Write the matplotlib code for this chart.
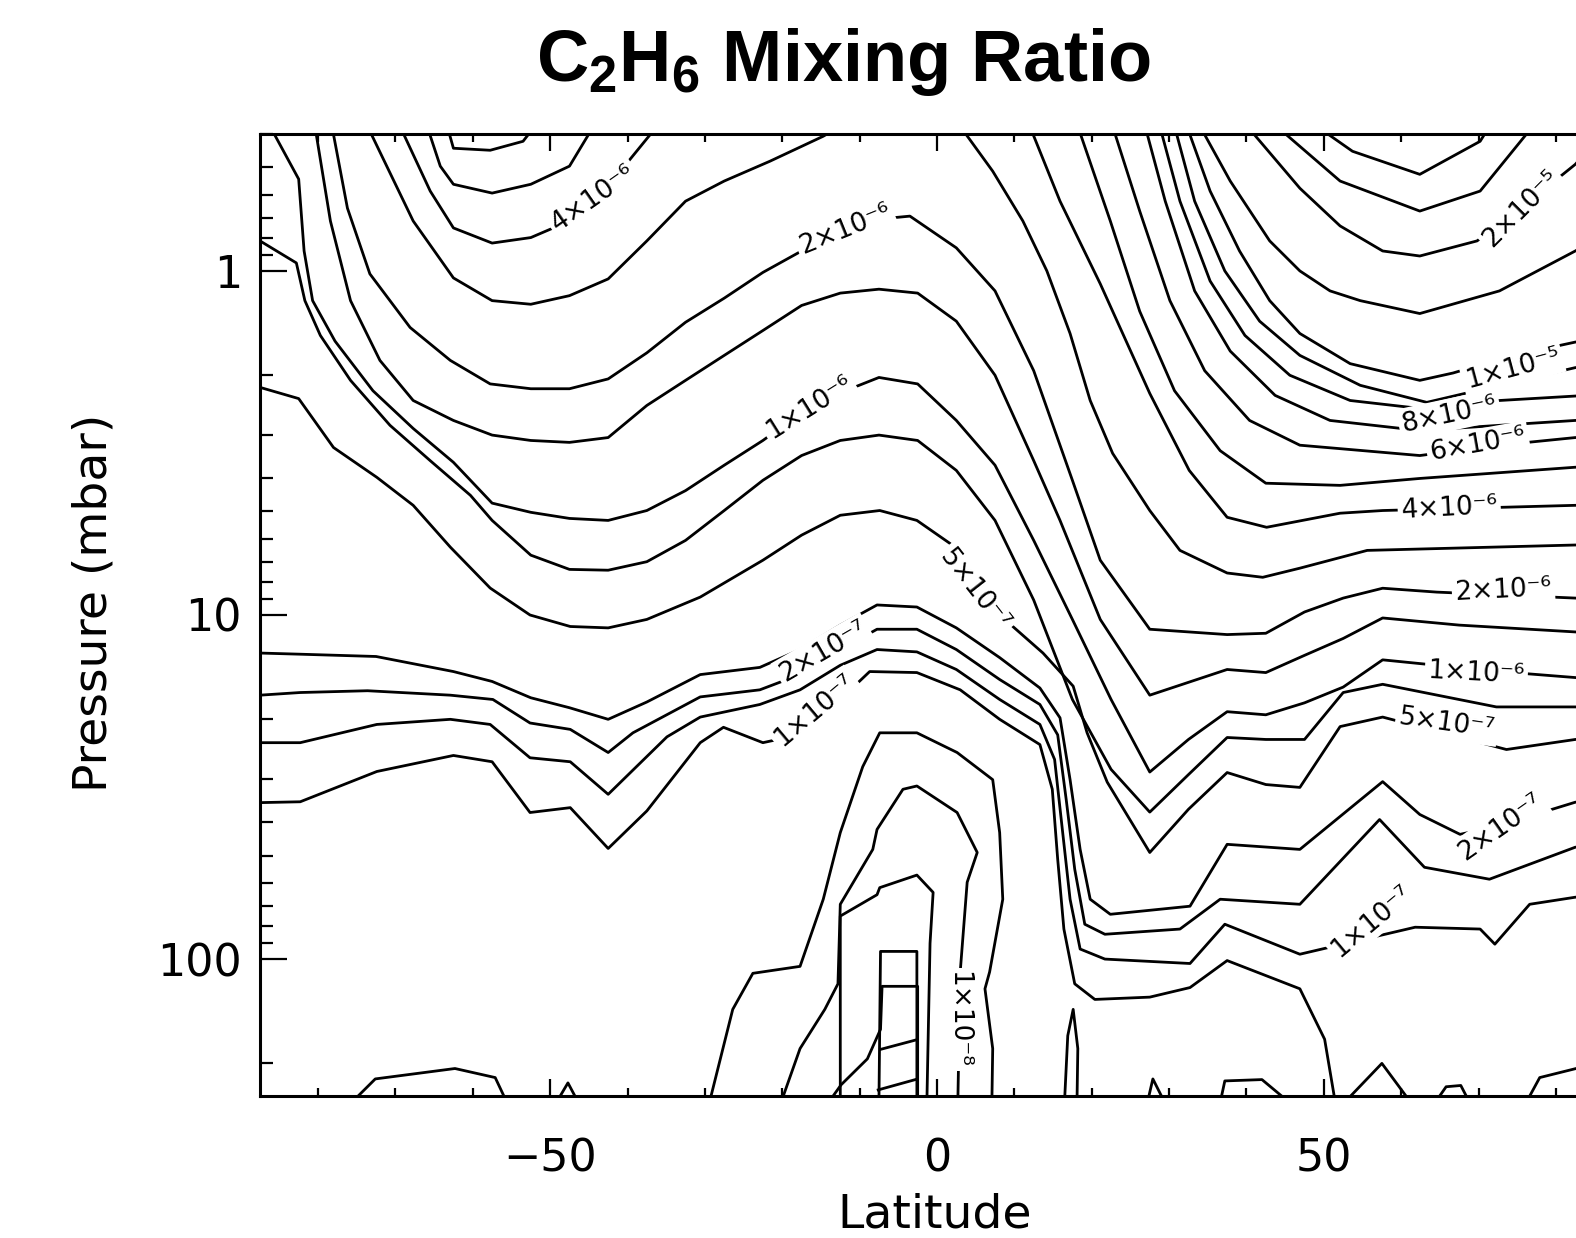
import matplotlib
matplotlib.use("Agg")
import matplotlib.pyplot as plt

plt.rcParams['mathtext.fontset'] = 'custom'
plt.rcParams['mathtext.rm'] = 'Liberation Sans'
plt.rcParams['mathtext.bf'] = 'Liberation Sans:bold'

# ---------------- contour lines (latitude [deg], pressure [mbar]) ----------------
c6e6_lat = [-63.3, -62.5, -57.75, -53.5, -52.0]
c6e6_p = [0.38, 0.44, 0.446, 0.42, 0.38]
c5e6_lat = [-65.9, -64.2, -62.5, -57.5, -52.5, -47.5, -44.4]
c5e6_p = [0.38, 0.496, 0.56, 0.594, 0.56, 0.496, 0.38]
c4e6L_lat = [-69.4, -65.5, -62.5, -57.5, -52.5, -47.5, -42.5, -36.2]
c4e6L_p = [0.38, 0.586, 0.75, 0.83, 0.80, 0.716, 0.567, 0.38]
c3e6L_lat = [-73.6, -67.7, -62.5, -57.5, -52.5, -47.5, -42.5, -37.5, -32.5, -27.5, -21.6, -14.7, -12.5]
c3e6L_p = [0.38, 0.716, 1.048, 1.22, 1.25, 1.18, 1.055, 0.818, 0.627, 0.548, 0.48, 0.406, 0.38]
c2e6_lat = [-78.2, -76.2, -73.3, -68.1, -62.9, -57.75, -52.5, -47.5, -42.5, -37.5, -32.5, -27.5, -22.5,
            -17.5, -12.5, -7.5, -3.5, 2.5, 7.5, 12.5, 17.5, 21.1, 27.5, 37.5, 42.5, 47.5, 52.5, 57.6,
            64.6, 82.5, 88.2]
c2e6_p = [0.38, 0.657, 1.02, 1.46, 1.82, 2.13, 2.20, 2.20, 2.06, 1.73, 1.41, 1.20, 1.01,
          0.875, 0.776, 0.707, 0.693, 0.857, 1.143, 1.95, 4.06, 6.93, 11.0, 11.4, 11.3, 9.8, 8.93, 8.36,
          8.58, 8.93, 9.05]
c15e7_lat = [-80.4, -78.4, -75.8, -72.0, -67.7, -62.5, -57.5, -52.5, -47.5, -42.5, -37.5, -32.5, -27.5,
             -22.5, -17.5, -12.5, -7.5, -2.5, 2.5, 7.5, 12.5, 15.9, 21.1, 27.5, 37.5, 42.5, 47.5, 52.5,
             57.6, 67.5, 82.5, 88.2]
c15e7_p = [0.38, 0.716, 1.22, 1.82, 2.38, 2.72, 3.0, 3.11, 3.15, 3.05, 2.46, 2.08, 1.76,
           1.49, 1.26, 1.16, 1.13, 1.16, 1.40, 2.01, 3.56, 5.31, 10.3, 17.1, 14.4, 14.7, 13.1, 11.7,
           10.2, 10.7, 11.2, 11.4]
c1e6_lat = [-86.2, -82.5, -81.8, -80.7, -77.8, -72.9, -67.7, -62.5, -57.5, -52.5, -47.5, -42.5, -37.5,
            -32.5, -27.5, -22.5, -17.5, -12.5, -7.5, -2.5, 2.5, 7.5, 12.5, 17.5, 22.5, 27.5, 32.5,
            37.5, 42.5, 47.5, 52.5, 57.6, 72.7, 82.5, 88.2]
c1e6_p = [0.38, 0.541, 0.875, 1.22, 1.60, 2.23, 2.87, 3.60, 4.73, 5.03, 5.24, 5.31, 4.97,
          4.35, 3.67, 3.11, 2.58, 2.26, 2.04, 2.13, 2.72, 3.67, 6.07, 10.3, 17.6, 28.6, 23.0,
          19.1, 19.5, 18.0, 16.2, 13.5, 14.6, 15.2, 15.4]
c7e7_lat = [-87.5, -82.8, -81.7, -79.7, -75.8, -70.7, -65.5, -60.3, -57.5, -52.5, -47.5, -42.5, -37.5,
            -32.5, -27.5, -22.5, -17.5, -12.5, -7.5, -2.5, 2.5, 7.5, 12.5, 17.5, 22.5, 27.5, 32.5,
            37.5, 42.5, 47.5, 52.5, 57.6, 72.3, 82.5, 88.2]
c7e7_p = [0.818, 0.948, 1.22, 1.54, 2.08, 2.81, 3.56, 4.49, 5.31, 6.7, 7.37, 7.41, 7.0,
          6.07, 4.97, 4.06, 3.44, 3.11, 3.0, 3.11, 3.80, 5.31, 9.05, 17.6, 28.1, 37.4, 29.1,
          22.7, 23.0, 23.0, 16.8, 15.9, 18.5, 18.5, 18.6]
c5e7_lat = [-87.5, -82.5, -78.0, -72.4, -67.7, -62.9, -57.75, -52.6, -47.4, -42.5, -37.5, -30.6, -22.5,
            -17.5, -12.5, -7.4, -2.6, 1.7, 9.8, 13.7, 17.6, 19.4, 22.0, 27.5, 32.5, 37.5, 42.5, 46.9,
            52.1, 57.6, 73.6, 82.5, 88.2]
c5e7_p = [2.18, 2.35, 3.26, 3.98, 4.8, 6.35, 8.35, 10.0, 10.8, 10.9, 10.3, 8.87, 6.93,
          5.86, 5.13, 4.97, 5.31, 6.2, 10.8, 12.9, 16.1, 22.0, 30.6, 49.0, 36.7, 28.7, 31.1, 31.7,
          21.1, 19.8, 24.6, 23.0, 22.7]
c3e7_lat = [-87.5, -82.3, -72.5, -62.5, -57.5, -52.5, -47.5, -42.5, -37.5, -30.6, -22.9, -17.7, -12.5,
            -7.75, -2.6, 2.5, 8.1, 13.3, 15.9, 17.2, 18.5, 19.8, 22.4, 32.7, 37.5, 46.9, 57.6, 62.4,
            67.6, 72.4, 82.5, 88.2]
c3e7_p = [12.9, 13.0, 13.2, 14.6, 15.6, 17.4, 18.6, 20.1, 17.9, 14.9, 14.2, 12.6, 10.7,
          9.35, 9.48, 10.9, 13.3, 16.3, 19.9, 30.1, 48.0, 67.0, 74.1, 70.2, 46.4, 48.0, 30.5, 38.0,
          43.4, 41.1, 35.0, 34.4]
c2e7_lat = [-87.5, -82.3, -73.6, -62.9, -57.4, -52.6, -47.4, -42.5, -39.3, -30.6, -22.9, -17.7, -12.5,
            -7.75, -2.6, 2.5, 8.1, 13.3, 15.6, 16.7, 17.8, 19.1, 21.7, 31.4, 36.6, 46.9, 57.2, 63.0,
            71.4, 82.5, 88.2]
c2e7_p = [17.1, 16.8, 16.6, 17.1, 17.6, 20.6, 21.5, 25.1, 22.0, 17.3, 16.5, 14.9, 12.6,
          11.0, 11.0, 12.6, 15.4, 18.2, 22.3, 34.4, 54.8, 79.2, 84.7, 81.8, 67.0, 69.3, 39.3, 54.1,
          58.6, 47.3, 46.8]
c15e7b_lat = [-87.5, -82.3, -72.4, -62.9, -57.75, -52.6, -47.4, -42.5, -34.9, -30.6, -22.9, -17.7, -12.5,
              -7.75, -2.6, 2.5, 8.1, 13.3, 15.2, 16.2, 17.2, 18.5, 21.7, 32.7, 37.2, 46.9, 61.8, 70.2,
              72.1, 76.6, 82.5, 88.2]
c15e7b_p = [23.5, 23.5, 20.8, 20.1, 20.8, 26.0, 26.7, 33.2, 22.6, 19.8, 18.2, 16.5, 14.0,
            12.6, 12.8, 14.4, 17.6, 20.8, 26.3, 42.0, 67.0, 93.5, 100, 103, 79.2, 96.8, 80.8, 81.8,
            90.5, 69.3, 66.1, 64.8]
c1e7_lat = [-87.5, -82.3, -72.4, -62.5, -57.5, -52.6, -47.4, -42.5, -37.5, -30.6, -27.6, -22.5, -19.0,
            -12.5, -8.7, -2.6, 3.0, 8.1, 13.3, 14.9, 15.6, 16.4, 17.8, 20.4, 27.5, 32.7, 37.5, 46.9,
            50.1, 51.4]
c1e7_p = [35.1, 34.9, 28.5, 25.6, 26.7, 37.5, 36.3, 47.7, 37.1, 23.5, 21.2, 23.5, 22.6,
          17.6, 14.6, 14.7, 16.5, 20.1, 23.8, 32.1, 51.3, 81.8, 118, 131, 129, 121, 101, 122,
          171, 255]

# equatorial lower dome
b1_lat = [-29.3, -26.4, -23.8, -17.7, -14.7, -12.5, -9.6, -7.4, -2.6, 2.6, 7.2, 8.1, 8.5, 6.8, 6.2, 7.2, 7.1]
b1_p = [255, 140, 110, 105, 67.0, 42.9, 27.6, 22.0, 22.0, 25.1, 30.1, 42.9, 67.0, 109, 122, 182, 255]
b2_lat = [-20.0, -17.7, -14.5, -12.8, -12.5, -8.3, -7.75, -4.4, -2.6, 2.6, 5.2, 3.9, 3.0, 2.7]
b2_p = [255, 182, 140, 118, 69.3, 48.0, 42.0, 32.1, 31.4, 37.5, 49.0, 59.8, 109, 255]
b3_lat = [-12.5, -12.5, -7.75, -7.4, -2.6, -0.5, -0.9, -1.3]
b3_p = [255, 75.0, 65.0, 62.0, 57.0, 64.0, 90.0, 255]
b4_lat = [-13.7, -12.4, -9.0, -7.3, -7.1, -2.5, -2.5]
b4_p = [255, 232, 195, 160, 120, 120, 255]
b5_lat = [-7.5, -7.3, -2.6, -2.6]
b5_p = [255, 95.0, 95.0, 255]
b6_lat = [-7.3, -2.8]
b6_p = [183, 172]
b7_lat = [-7.6, -2.8]
b7_p = [240, 224]

# small contours along the bottom edge
s1_lat = [-75.2, -72.6, -62.3, -57.1, -55.8]
s1_p = [255, 223, 208, 221, 255]
s2_lat = [-48.7, -47.7, -46.8]
s2_p = [250, 229, 250]
s3_lat = [16.5, 16.9, 17.6, 18.2, 18.1]
s3_p = [255, 167, 140, 182, 255]
s4_lat = [27.3, 27.9, 29.2]
s4_p = [255, 223, 255]
s5_lat = [36.7, 37.2, 42.0, 45.0]
s5_p = [255, 226, 224, 255]
s6_lat = [53.1, 57.5, 60.9]
s6_p = [255, 201, 255]
s7_lat = [64.7, 65.8, 67.7, 68.6]
s7_p = [255, 235, 233, 255]
s8_lat = [76.4, 77.9, 82.6, 87.5]
s8_p = [255, 221, 208, 195]

# upper right family
r3e6_lat = [3.0, 7.2, 11.1, 14.2, 17.2, 19.8, 22.7, 27.5, 31.4, 37.5, 42.1, 46.9, 55.6, 82.5, 88.2]
r3e6_p = [0.38, 0.513, 0.716, 1.0, 1.52, 2.38, 3.39, 4.97, 6.49, 7.55, 7.77, 7.31, 6.49, 6.26, 6.26]
r4e6_lat = [12.0, 15.9, 21.1, 27.5, 32.6, 37.5, 42.6, 52.1, 57.6, 82.5, 88.2]
r4e6_p = [0.38, 0.627, 1.09, 2.27, 3.80, 5.20, 5.56, 5.06, 4.97, 4.80, 4.80]
r5e6_lat = [18.2, 22.4, 26.2, 30.7, 36.6, 42.5, 52.1, 62.4, 82.5, 88.2]
r5e6_p = [0.38, 0.716, 1.31, 2.23, 3.33, 4.14, 4.20, 4.01, 3.72, 3.70]
r6e6_lat = [22.7, 26.2, 30.1, 34.6, 40.4, 46.9, 62.4, 72.7, 82.5, 88.2]
r6e6_p = [0.38, 0.670, 1.22, 1.95, 2.72, 3.21, 3.44, 3.21, 3.05, 3.03]
r7e6_lat = [26.9, 29.5, 33.3, 37.9, 43.7, 50.8, 62.4, 72.7, 82.5, 88.2]
r7e6_p = [0.38, 0.627, 1.143, 1.71, 2.30, 2.72, 2.91, 2.81, 2.72, 2.69]
r8e6_lat = [28.8, 31.4, 35.3, 39.8, 45.6, 53.4, 62.4, 72.7, 82.5, 88.2]
r8e6_p = [0.38, 0.627, 1.07, 1.54, 2.01, 2.38, 2.51, 2.38, 2.31, 2.27]
r9e6_lat = [30.7, 33.3, 37.2, 41.7, 46.9, 54.7, 63.3, 72.7, 82.5, 88.2]
r9e6_p = [0.38, 0.627, 1.0, 1.40, 1.76, 2.15, 2.41, 2.15, 1.91, 1.85]
r1e5_lat = [32.3, 35.3, 39.1, 43.0, 46.9, 53.4, 62.4, 66.7, 74.0, 82.5, 88.2]
r1e5_p = [0.38, 0.586, 0.875, 1.22, 1.52, 1.86, 2.08, 1.98, 1.77, 1.61, 1.54]
r15e5_lat = [34.0, 37.9, 43.0, 46.9, 50.8, 54.7, 62.4, 72.7, 82.5, 88.2]
r15e5_p = [0.38, 0.548, 0.818, 1.0, 1.143, 1.22, 1.33, 1.143, 0.875, 0.74]
r2e5_lat = [40.1, 46.9, 52.1, 57.6, 62.4, 69.8, 76.6, 82.5, 86.9]
r2e5_p = [0.38, 0.575, 0.74, 0.875, 0.905, 0.818, 0.627, 0.49, 0.38]
r25e5_lat = [43.9, 52.1, 62.4, 70.2, 77.0]
r25e5_p = [0.38, 0.548, 0.670, 0.586, 0.38]
r3e5_lat = [49.1, 53.7, 62.4, 70.2, 71.4]
r3e5_p = [0.38, 0.449, 0.524, 0.42, 0.38]

lines = [
    (c6e6_lat, c6e6_p), (c5e6_lat, c5e6_p), (c4e6L_lat, c4e6L_p), (c3e6L_lat, c3e6L_p),
    (c2e6_lat, c2e6_p), (c15e7_lat, c15e7_p), (c1e6_lat, c1e6_p), (c7e7_lat, c7e7_p),
    (c5e7_lat, c5e7_p), (c3e7_lat, c3e7_p), (c2e7_lat, c2e7_p), (c15e7b_lat, c15e7b_p),
    (c1e7_lat, c1e7_p),
    (b1_lat, b1_p), (b2_lat, b2_p), (b3_lat, b3_p), (b4_lat, b4_p), (b5_lat, b5_p),
    (b6_lat, b6_p), (b7_lat, b7_p),
    (s1_lat, s1_p), (s2_lat, s2_p), (s3_lat, s3_p), (s4_lat, s4_p), (s5_lat, s5_p),
    (s6_lat, s6_p), (s7_lat, s7_p), (s8_lat, s8_p),
    (r3e6_lat, r3e6_p), (r4e6_lat, r4e6_p), (r5e6_lat, r5e6_p), (r6e6_lat, r6e6_p),
    (r7e6_lat, r7e6_p), (r8e6_lat, r8e6_p), (r9e6_lat, r9e6_p), (r1e5_lat, r1e5_p),
    (r15e5_lat, r15e5_p), (r2e5_lat, r2e5_p), (r25e5_lat, r25e5_p), (r3e5_lat, r3e5_p),
]

# contour labels: text, latitude, pressure, rotation
label_text = ['4×10⁻⁶', '2×10⁻⁶', '1×10⁻⁶', '5×10⁻⁷', '2×10⁻⁷', '1×10⁻⁷', '1×10⁻⁸',
              '2×10⁻⁵', '1×10⁻⁵', '8×10⁻⁶', '6×10⁻⁶', '4×10⁻⁶', '2×10⁻⁶', '1×10⁻⁶',
              '5×10⁻⁷', '2×10⁻⁷', '1×10⁻⁷']
label_lat = [-44.4, -11.9, -16.5, 4.8, -14.7, -15.8, 2.7,
             75.5, 74.4, 66.2, 69.9, 66.2, 73.2, 69.7,
             65.9, 72.9, 56.2]
label_p = [0.618, 0.755, 2.5, 8.5, 12.8, 18.9, 150,
           0.66, 1.93, 2.62, 3.21, 4.90, 8.47, 14.8,
           20.7, 41.5, 77.6]
label_rot = [35, 22, 32, -52, 30, 40, -90,
             45, 15, 12, 10, 3, 3, -3,
             -8, 35, 40]

# ---------------- figure ----------------
W, H = 1576, 1238
fig = plt.figure(figsize=(W / 100, H / 100), dpi=100)
ax = fig.add_axes([260 / W, 1 - 1096 / H, (1614 - 260) / W, (1096 - 134) / H])
ax.set_yscale('log')
ax.set_xlim(-87.5, 87.5)
ax.set_ylim(250, 0.4)

for lat, p in lines:
    ax.plot(lat, p, color='black', lw=2.0, solid_joinstyle='round')

for t, la, pp, r in zip(label_text, label_lat, label_p, label_rot):
    ax.text(la, pp, t, rotation=r, rotation_mode='anchor', ha='center', va='center',
            fontsize=19, family='DejaVu Sans', zorder=5,
            bbox=dict(boxstyle='square,pad=0.12', fc='white', ec='none'))

xticks = [-50, 0, 50]
xtick_labels = ['−50', '0', '50']
xminor = [-80, -70, -60, -40, -30, -20, -10, 10, 20, 30, 40, 60, 70, 80]
yticks = [1, 10, 100]
ytick_labels = ['1', '10', '100']
yminor = [0.4, 0.5, 0.6, 0.7, 0.8, 0.9, 2, 3, 4, 5, 6, 7, 8, 9,
          20, 30, 40, 50, 60, 70, 80, 90, 200]

ax.set_xticks(xticks)
ax.set_xticklabels(xtick_labels)
ax.set_xticks(xminor, minor=True)
ax.set_yticks(yticks)
ax.set_yticklabels(ytick_labels)
ax.set_yticks(yminor, minor=True)
ax.set_yticklabels([], minor=True)

ax.tick_params(axis='both', which='both', direction='in', top=True, right=True,
               width=1.6, labelsize=32, colors='black')
ax.tick_params(axis='x', which='major', length=12.5, pad=30)
ax.tick_params(axis='x', which='minor', length=6)
ax.tick_params(axis='y', which='major', length=19.5, pad=13)
ax.tick_params(axis='y', which='minor', length=9.5)
for lab in ax.get_xticklabels() + ax.get_yticklabels():
    lab.set_family('DejaVu Sans')
for s in ax.spines.values():
    s.set_linewidth(2.2)

fig.text(935 / W, 1 - 1228 / H, 'Latitude', ha='center', va='baseline', fontsize=34,
         family='DejaVu Sans')
fig.text(94 / W, 1 - 603 / H, 'Pressure (mbar)', rotation=90, ha='center', va='center',
         fontsize=34, family='DejaVu Sans')
fig.text(843 / W, 1 - 81 / H, r'C$_{\mathbf{2}}$H$_{\mathbf{6}}$ Mixing Ratio', ha='center',
         va='baseline', fontsize=52, fontweight='bold', family='Liberation Sans')

fig.savefig('out.png', dpi=100)
